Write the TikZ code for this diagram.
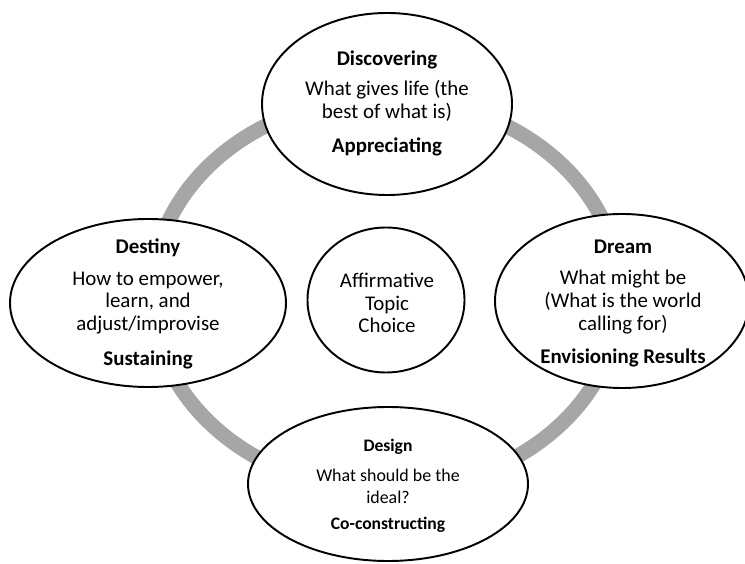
\documentclass[tikz,border=0pt]{standalone}
\usepackage{fontspec}
\setmainfont{Carlito}
\usetikzlibrary{shapes.geometric}
\definecolor{ringgray}{HTML}{A6A6A6}

\begin{document}
\begin{tikzpicture}[
    phase/.style={ellipse, draw, line width=1.1pt, fill=white, inner sep=0pt},
    head/.style={font=\fontsize{11.9}{13}\selectfont\bfseries},
    body/.style={align=center, font=\fontsize{11.9}{13}\selectfont},
    small/.style={font=\fontsize{10.2}{12.5}\selectfont}]
  \useasboundingbox (0,0) rectangle (14.9,11.26);
  % the 4-D cycle
  \draw[ringgray, line width=0.3cm] (7.72,5.38) ellipse (4.68 and 3.92);

  % phases
  \node[phase, minimum width=5.0cm, minimum height=3.64cm] (discover) at (7.74,9.18) {};
  \node[phase, minimum width=5.52cm, minimum height=3.36cm] (destiny) at (2.96,5.2) {};
  \node[phase, minimum width=5.08cm, minimum height=3.48cm] (dream) at (12.44,5.24) {};
  \node[phase, minimum width=5.6cm, minimum height=3.08cm] (design) at (7.76,1.58) {};
  \node[phase, minimum width=3.14cm, minimum height=2.9cm] (topic) at (7.72,5.26) {};

  \node[head] (discoverhead) at (7.74,10.06) {Discovering};
  \node[body] (discoverbody) at (7.74,9.24) {What gives life (the\\best of what is)};
  \node[head] (discoverfoot) at (7.74,8.32) {Appreciating};

  \node[head] (destinyhead) at (2.96,6.3) {Destiny};
  \node[body] (destinybody) at (2.96,5.2) {How to empower,\\learn, and\\adjust/improvise};
  \node[head] (destinyfoot) at (2.96,4.06) {Sustaining};

  \node[head] (dreamhead) at (12.46,6.32) {Dream};
  \node[body] (dreambody) at (12.46,5.22) {What might be\\(What is the world\\calling for)};
  \node[head] (dreamfoot) at (12.46,4.1) {Envisioning Results};

  \node[head, small, font=\bfseries] (designhead) at (7.76,2.32) {Design};
  \node[body, small] (designbody) at (7.76,1.54) {What should be the\\ideal?};
  \node[head, small, font=\bfseries] (designfoot) at (7.76,0.76) {Co-constructing};

  \node[body] (topictext) at (7.74,5.2) {Affirmative\\Topic\\Choice};
\end{tikzpicture}
\end{document}
